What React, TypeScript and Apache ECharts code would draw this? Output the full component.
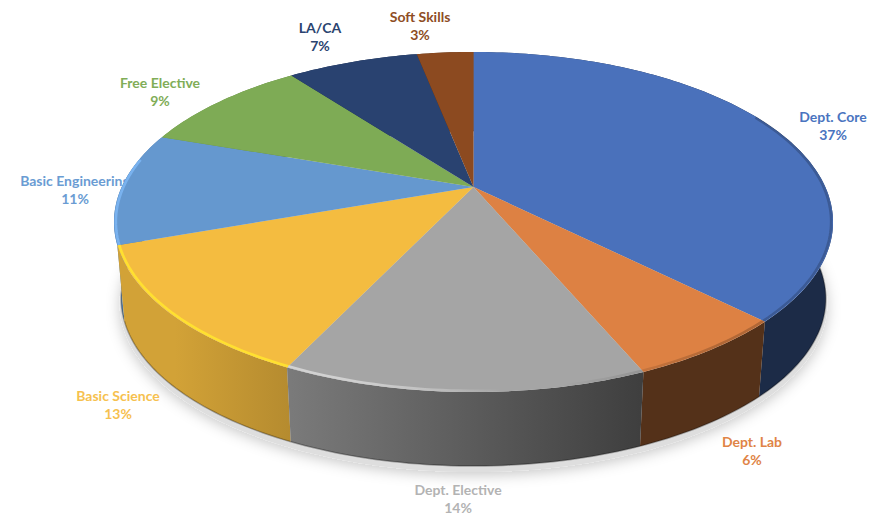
import React, { useEffect, useRef } from "react";
import * as echarts from "echarts";

const categories = ["Dept. Core", "Dept. Lab", "Dept. Elective", "Basic Science", "Basic Engineering", "Free Elective", "LA/CA", "Soft Skills"];
const shares = [37.49, 6.11, 13.5, 12.5, 10.7, 9.4, 7.2, 3.1];
const topColors = ["#4a71bb", "#dd8143", "#a5a5a5", "#f4bc40", "#6598cf", "#7eab55", "#294270", "#8c4a20"];
const glowColors = ["#6f95dc", "#f2a468", "#d2d2d2", "#ffe030", "#79b2ef", "#9ccb70", "#47669c", "#b56a38"];
const labelColors = ["#4a74c0", "#e08446", "#b3b3b3", "#f6c14f", "#6a9cd3", "#80ad57", "#2b4470", "#8e4d24"];
const sidePaintRank = [1, 6, 8, 7, 5, 4, 3, 2];
const labelAnchors = [[833, 116], [752, 441], [458, 489], [118, 395.5], [75, 180], [160, 82], [320, 27], [420, 16.5]];

const APEX_X = 473.5, APEX_Y = 187, RX = 351.8, RY = 162.8, TILT = 0.2061;
const ELL_X = 473.5, ELL_Y = 222.5, DEPTH = 76.5, SHRINK = 0.98, LINE_GAP = 18;

const project = (theta: number, k = 1): number[] => {
  const s = Math.sin(theta) * k;
  const c = -Math.cos(theta) * k;
  const w = 1 - TILT * c;
  return [APEX_X + (RX * s) / w, APEX_Y + (RY * c) / w];
};
const lower = (p: number[]): number[] => [
  ELL_X + (p[0] - ELL_X) * SHRINK,
  ELL_Y + (p[1] - ELL_Y) * 0.985 + DEPTH,
];
const arc = (a: number, b: number, k = 1): number[][] => {
  const n = Math.max(2, Math.ceil(Math.abs(b - a) / 0.02));
  const out: number[][] = [];
  for (let i = 0; i <= n; i++) out.push(project(a + ((b - a) * i) / n, k));
  return out;
};
const shade = (hex: string, f: number): string => {
  const v = parseInt(hex.slice(1), 16);
  return `rgb(${Math.round((v >> 16) * f)},${Math.round(((v >> 8) & 255) * f)},${Math.round((v & 255) * f)})`;
};
const sideFactor = (x: number): number => Math.min(0.86, Math.max(0.38, 0.74 - 0.00103 * (x - 291)));
const sideFill = (base: string) => {
  const xs = [114, 175, 291, 480, 640, 833];
  return {
    type: "linear", global: true, x: 114, y: 0, x2: 833, y2: 0,
    colorStops: xs.map((x) => ({ offset: (x - 114) / 719, color: shade(base, sideFactor(x)) })),
  };
};
const rimStroke = (glow: string) => ({
  type: "linear", global: true, x: 114, y: 0, x2: 833, y2: 0,
  colorStops: [
    { offset: 0, color: glow },
    { offset: (300 - 114) / 719, color: glow },
    { offset: (500 - 114) / 719, color: "rgba(255,255,255,0)" },
    { offset: (560 - 114) / 719, color: "rgba(0,0,0,0)" },
    { offset: (720 - 114) / 719, color: "rgba(0,0,0,0.2)" },
    { offset: 1, color: "rgba(0,0,0,0.2)" },
  ],
});

const total = shares.reduce((a, b) => a + b, 0);
const TAU = Math.PI * 2;

const renderSlice = (params: any, api: any) => {
  const i = params.dataIndex;
  let before = 0;
  for (let j = 0; j < i; j++) before += api.value(0, j);
  const a0 = (before / total) * TAU;
  const a1 = ((before + api.value(0)) / total) * TAU;
  const top = arc(a0, a1);
  const bottom = top.map(lower);
  const children: any[] = [];

  if (i === 0) {
    const outline = arc(0, TAU, 1.004).map(lower);
    children.push({
      type: "polygon", z2: -5,
      shape: { points: outline.map((p) => [p[0], p[1] + 5]) },
      style: { fill: "#dedede", shadowBlur: 14, shadowColor: "rgba(0,0,0,0.22)", shadowOffsetY: 3 },
    });
  }

  const textStyle = { fill: labelColors[i], font: "700 14px Lato", align: "center", verticalAlign: "middle" };
  children.push({
    type: "text", z2: -1, x: labelAnchors[i][0], y: labelAnchors[i][1],
    style: { ...textStyle, text: categories[i] },
  });
  children.push({
    type: "text", z2: -1, x: labelAnchors[i][0], y: labelAnchors[i][1] + LINE_GAP,
    style: { ...textStyle, text: `${Math.round(api.value(0))}%` },
  });

  children.push({
    type: "polygon", z2: sidePaintRank[i],
    shape: { points: top.concat(bottom.slice().reverse()) },
    style: { fill: sideFill(topColors[i]) },
  });
  children.push({
    type: "polyline", z2: sidePaintRank[i] + 0.5,
    shape: { points: bottom },
    style: { fill: "none", stroke: "rgba(0,0,0,0.3)", lineWidth: 1.5 },
  });
  children.push({
    type: "polygon", z2: 100,
    shape: { points: [[APEX_X, APEX_Y]].concat(top) },
    style: { fill: topColors[i] },
  });

  const rimFrom = Math.max(a0, (62 / 360) * TAU);
  const rimTo = Math.min(a1, (280 / 360) * TAU);
  if (rimTo > rimFrom) {
    children.push({
      type: "polyline", z2: 101,
      shape: { points: arc(rimFrom, rimTo, 0.995) },
      style: { fill: "none", stroke: rimStroke(glowColors[i]), lineWidth: 2.6 },
    });
  }
  return { type: "group", children };
};

export default function App() {
  const ref = useRef<HTMLDivElement>(null);
  useEffect(() => {
    const chart = echarts.init(ref.current!, undefined, { renderer: "svg" });
    chart.setOption({
      animation: false,
      backgroundColor: "#ffffff",
      series: [
        {
          type: "custom",
          coordinateSystem: "none",
          name: "Credits",
          data: shares.map((v, i) => ({ name: categories[i], value: [v] })),
          renderItem: renderSlice,
          clip: false,
        },
      ],
    });
    return () => chart.dispose();
  }, []);
  return <div ref={ref} style={{ position: "absolute", left: 0, top: 0, width: 878, height: 515 }} />;
}
